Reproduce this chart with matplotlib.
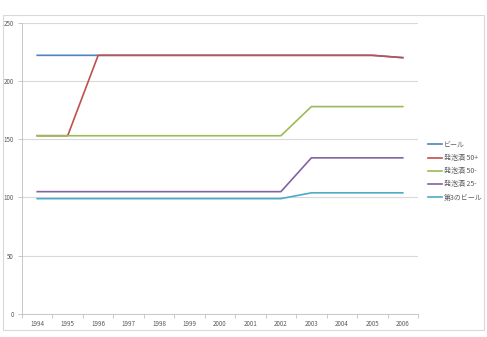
import numpy as np
import matplotlib.pyplot as plt
from matplotlib.patches import Rectangle

plt.rcParams['font.family'] = ['Noto Sans CJK JP', 'DejaVu Sans']

# データ
years = ['1994', '1995', '1996', '1997', '1998', '1999', '2000',
         '2001', '2002', '2003', '2004', '2005', '2006']
beer = [222, 222, 222, 222, 222, 222, 222, 222, 222, 222, 222, 222, 220]
happo_50p = [153, 153, 222, 222, 222, 222, 222, 222, 222, 222, 222, 222, 220]
happo_50m = [153, 153, 153, 153, 153, 153, 153, 153, 153, 178, 178, 178, 178]
happo_25m = [105, 105, 105, 105, 105, 105, 105, 105, 105, 134, 134, 134, 134]
third_beer = [99, 99, 99, 99, 99, 99, 99, 99, 99, 104, 104, 104, 104]

series = [
    ('ビール', beer, '#4F81BD'),
    ('発泡酒 50+', happo_50p, '#C0504D'),
    ('発泡酒 50-', happo_50m, '#9BBB59'),
    ('発泡酒 25-', happo_25m, '#8064A2'),
    ('第3のビール', third_beer, '#4BACC6'),
]

fig = plt.figure(figsize=(4.87, 3.37), dpi=100)
fig.patches.append(Rectangle((3 / 487, 7 / 337), 481 / 487, 315 / 337,
                             transform=fig.transFigure, fill=False,
                             edgecolor='#D9D9D9', linewidth=0.8))

ax = fig.add_axes([22 / 487, 23 / 337, 396 / 487, 291.3 / 337])
x = np.arange(len(years))
for name, vals, col in series:
    ax.plot(x, vals, color=col, linewidth=1.2, label=name)

ax.set_xlim(-0.5, len(years) - 0.5)
ax.set_ylim(0, 250)
ax.set_yticks([0, 50, 100, 150, 200, 250])
ax.set_xticks(x)
ax.set_xticklabels(years)
ax.set_xticks(np.arange(-0.5, len(years), 1), minor=True)
ax.tick_params(axis='x', which='major', length=0, labelsize=4.5,
               labelcolor='#595959', pad=4)
ax.tick_params(axis='x', which='minor', length=3, color='#BFBFBF', width=0.6)
ax.tick_params(axis='y', length=3, color='#BFBFBF', width=0.6,
               labelsize=4.5, labelcolor='#595959', pad=3)
ax.grid(axis='y', color='#D9D9D9', linewidth=0.8)
ax.set_axisbelow(True)
for s in ['top', 'right']:
    ax.spines[s].set_visible(False)
for s in ['left', 'bottom']:
    ax.spines[s].set_color('#BFBFBF')
    ax.spines[s].set_linewidth(0.6)

leg = ax.legend(loc='center left', bbox_to_anchor=(1.01, 0.49), frameon=False,
                fontsize=5, handlelength=2, handletextpad=0.3,
                labelspacing=0.75)
for t in leg.get_texts():
    t.set_color('#595959')

fig.savefig('out.png', dpi=100)
